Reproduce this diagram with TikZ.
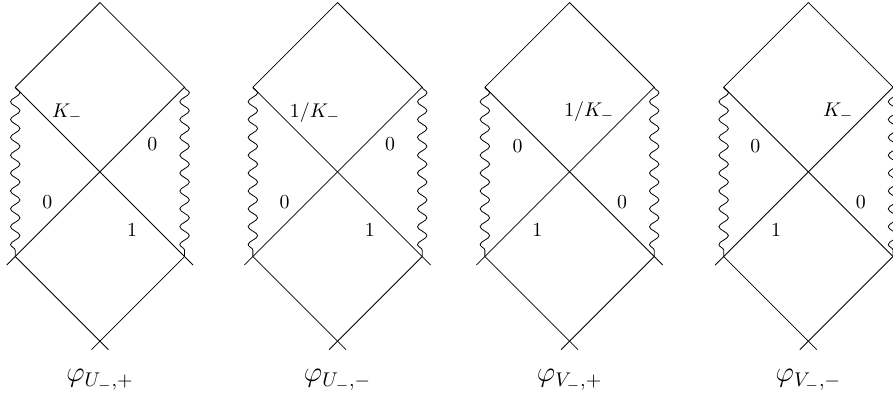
\documentclass[tikz,border=0pt]{standalone}
\usetikzlibrary{decorations.pathmorphing}
\tikzset{
    singular/.style={decorate,decoration={snake,amplitude=2.4pt,segment length=9pt}},
    caption/.style={font=\Large},
}
\begin{document}
\begin{tikzpicture}
        \useasboundingbox (0,0) rectangle (15.82,6.995);
        %% Diagram U-,+ , first
        \draw (0.27,5.45) -- ++ (1.5,1.5) -- ++ (1.5,-1.5);
        \draw (0.27,5.45) -- ++ (3.15,-3.15);
        \draw (3.27,5.45) -- ++ (-3.15,-3.15);
        \draw (0.27,2.45) -- ++ (1.65,-1.65);
        \draw (3.27,2.45) -- ++ (-1.65,-1.65);
        \draw[singular] (0.27,5.45) -- (0.27,2.45);
        \draw[singular] (3.27,5.45) -- (3.27,2.45);
        \node (kUp) at (1.19,4.99) {$K_-$};
        \node (zUpR) at (2.70,4.45) {$0$};
        \node (zUpL) at (0.84,3.42) {$0$};
        \node (oUp) at (2.34,2.91) {$1$};
        \node[caption] (capUp) at (1.77,0.26) {$\varphi_{U_-,+}$};
        %% Diagram U-,- , second
        \draw (4.48,5.45) -- ++ (1.5,1.5) -- ++ (1.5,-1.5);
        \draw (4.48,5.45) -- ++ (3.15,-3.15);
        \draw (7.48,5.45) -- ++ (-3.15,-3.15);
        \draw (4.48,2.45) -- ++ (1.65,-1.65);
        \draw (7.48,2.45) -- ++ (-1.65,-1.65);
        \draw[singular] (4.48,5.45) -- (4.48,2.45);
        \draw[singular] (7.48,5.45) -- (7.48,2.45);
        \node (kUm) at (5.58,5.00) {$1/K_-$};
        \node (zUmR) at (6.91,4.45) {$0$};
        \node (zUmL) at (5.04,3.42) {$0$};
        \node (oUm) at (6.55,2.91) {$1$};
        \node[caption] (capUm) at (5.98,0.26) {$\varphi_{U_-,-}$};
        %% Diagram V-,+ , third
        \draw (8.59,5.45) -- ++ (1.5,1.5) -- ++ (1.5,-1.5);
        \draw (8.59,5.45) -- ++ (3.15,-3.15);
        \draw (11.59,5.45) -- ++ (-3.15,-3.15);
        \draw (8.59,2.45) -- ++ (1.65,-1.65);
        \draw (11.59,2.45) -- ++ (-1.65,-1.65);
        \draw[singular] (8.59,5.45) -- (8.59,2.45);
        \draw[singular] (11.59,5.45) -- (11.59,2.45);
        \node (kVp) at (10.44,5.01) {$1/K_-$};
        \node (zVpL) at (9.17,4.40) {$0$};
        \node (zVpR) at (11.02,3.42) {$0$};
        \node (oVp) at (9.52,2.91) {$1$};
        \node[caption] (capVp) at (10.09,0.26) {$\varphi_{V_-,+}$};
        %% Diagram V-,- , fourth, cut at the right
        \draw (12.82,5.45) -- ++ (1.5,1.5) -- ++ (1.5,-1.5);
        \draw (12.82,5.45) -- ++ (3.15,-3.15);
        \draw (15.82,5.45) -- ++ (-3.15,-3.15);
        \draw (12.82,2.45) -- ++ (1.65,-1.65);
        \draw (15.82,2.45) -- ++ (-1.65,-1.65);
        \draw[singular] (12.82,5.45) -- (12.82,2.45);
        \draw[singular] (15.82,5.45) -- (15.82,2.45);
        \node (kVm) at (14.85,5.01) {$K_-$};
        \node (zVmL) at (13.38,4.40) {$0$};
        \node (zVmR) at (15.25,3.42) {$0$};
        \node (oVm) at (13.75,2.91) {$1$};
        \node[caption] (capVm) at (14.32,0.26) {$\varphi_{V_-,-}$};
    \end{tikzpicture}
\end{document}
